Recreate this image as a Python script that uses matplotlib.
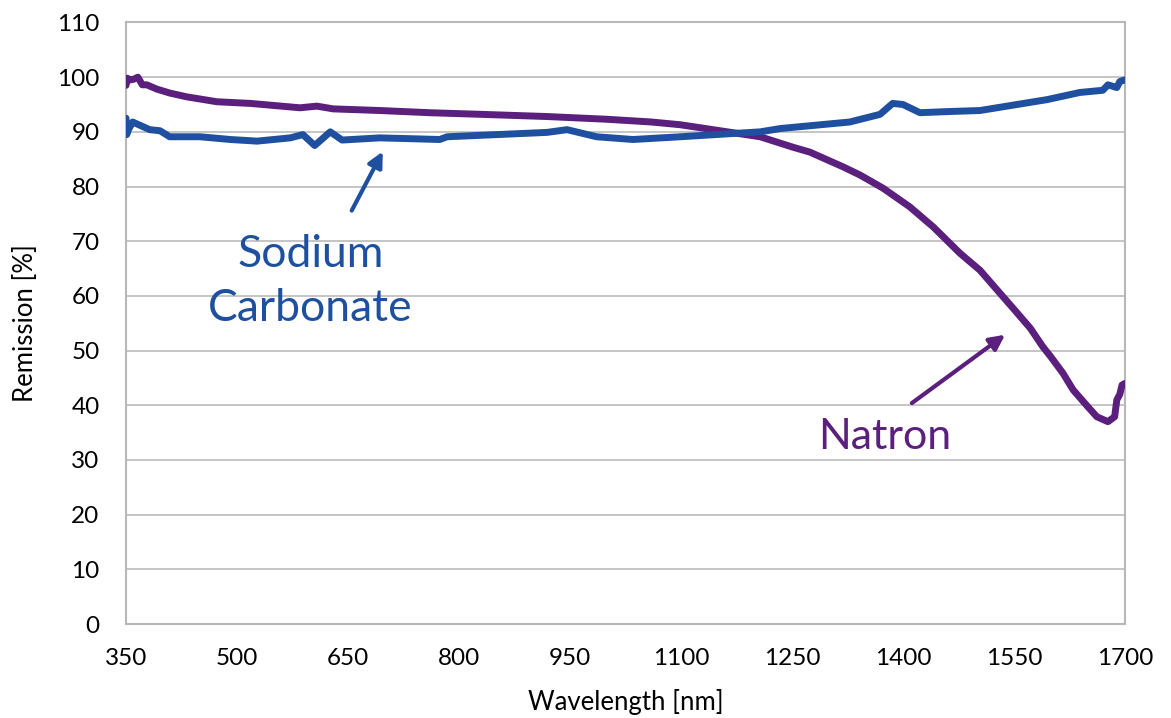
"""
Remission spectra of natron and sodium carbonate
"""
import matplotlib.pyplot as plt
from matplotlib.ticker import MultipleLocator

plt.rcParams["font.family"] = ["Lato", "DejaVu Sans"]

# wavelength [nm] / remission [%]
natron_wl = [350, 352, 355, 360, 366, 372, 378, 392, 409, 432, 473, 518, 585,
             608, 630, 693, 760, 830, 919, 1000, 1060, 1099, 1143, 1207, 1251,
             1274, 1319, 1342, 1373, 1409, 1441, 1477, 1504, 1531, 1551, 1572,
             1589, 1599, 1616, 1630, 1650, 1662, 1677, 1686, 1689, 1693, 1696,
             1700]
natron_rem = [98.5, 99.8, 99.5, 99.6, 100.0, 98.6, 98.6, 97.8, 97.1, 96.4, 95.5,
              95.2, 94.4, 94.7, 94.2, 93.9, 93.5, 93.2, 92.8, 92.3, 91.8, 91.3,
              90.4, 89.1, 87.2, 86.3, 83.6, 82.1, 79.7, 76.3, 72.6, 67.8, 64.7,
              60.5, 57.4, 54.1, 50.7, 49.0, 45.9, 42.8, 39.7, 37.9, 37.0, 37.9,
              41.0, 42.0, 43.7, 44.0]

soda_wl = [350, 351, 353, 359, 382, 396, 409, 450, 491, 527, 572, 589, 605, 626,
           642, 693, 774, 784, 919, 946, 986, 1035, 1099, 1207, 1234, 1328,
           1369, 1386, 1400, 1423, 1459, 1504, 1595, 1639, 1670, 1677, 1689,
           1693, 1700]
soda_rem = [92.5, 89.5, 90.3, 91.8, 90.4, 90.2, 89.1, 89.1, 88.6, 88.3, 88.9,
            89.5, 87.5, 90.0, 88.5, 88.9, 88.6, 89.1, 89.9, 90.4, 89.1, 88.6,
            89.1, 90.0, 90.6, 91.8, 93.2, 95.2, 95.0, 93.5, 93.7, 93.9, 95.9,
            97.2, 97.6, 98.6, 98.1, 99.2, 99.5]

x_ticks = [350, 500, 650, 800, 950, 1100, 1250, 1400, 1550, 1700]

purple = "#5b1f7e"
blue = "#1f50a0"

fig = plt.figure(figsize=(11.71, 7.18), dpi=100)
ax = fig.add_axes([0.1076, 0.1309, 0.8531, 0.8378])

ax.plot(natron_wl, natron_rem, color=purple, lw=5, solid_capstyle="round",
        solid_joinstyle="round", zorder=3)
ax.plot(soda_wl, soda_rem, color=blue, lw=5, solid_capstyle="round",
        solid_joinstyle="round", zorder=3)

ax.set_xlim(350, 1700)
ax.set_ylim(0, 110)
ax.set_xticks(x_ticks)
ax.yaxis.set_major_locator(MultipleLocator(10))
ax.grid(axis="y", color="#c0c0c0", lw=1.3)
ax.set_axisbelow(True)
for s in ax.spines.values():
    s.set_color("#b8b8b8")
    s.set_linewidth(1.5)
ax.tick_params(length=0, labelsize=17.5)
ax.tick_params(axis="x", pad=17)
ax.tick_params(axis="y", pad=19)

ax.set_xlabel("Wavelength [nm]", fontsize=18.5, labelpad=15)
ax.set_ylabel("Remission [%]", fontsize=18.5, labelpad=14)

# labels with arrows
ax.annotate("", xy=(697, 86.4), xytext=(655, 75.6),
            arrowprops=dict(arrowstyle="-|>,head_length=0.9,head_width=0.45",
                            color=blue, lw=3, shrinkA=0, shrinkB=0))
ax.text(599, 62.6, "Sodium\nCarbonate", color=blue, fontsize=32,
        ha="center", va="center", linespacing=1.4)

ax.annotate("", xy=(1538, 52.9), xytext=(1412, 40.4),
            arrowprops=dict(arrowstyle="-|>,head_length=0.9,head_width=0.45",
                            color=purple, lw=3, shrinkA=0, shrinkB=0))
ax.text(1375, 34.2, "Natron", color=purple, fontsize=31,
        ha="center", va="center")

plt.savefig("out.png", dpi=100)
